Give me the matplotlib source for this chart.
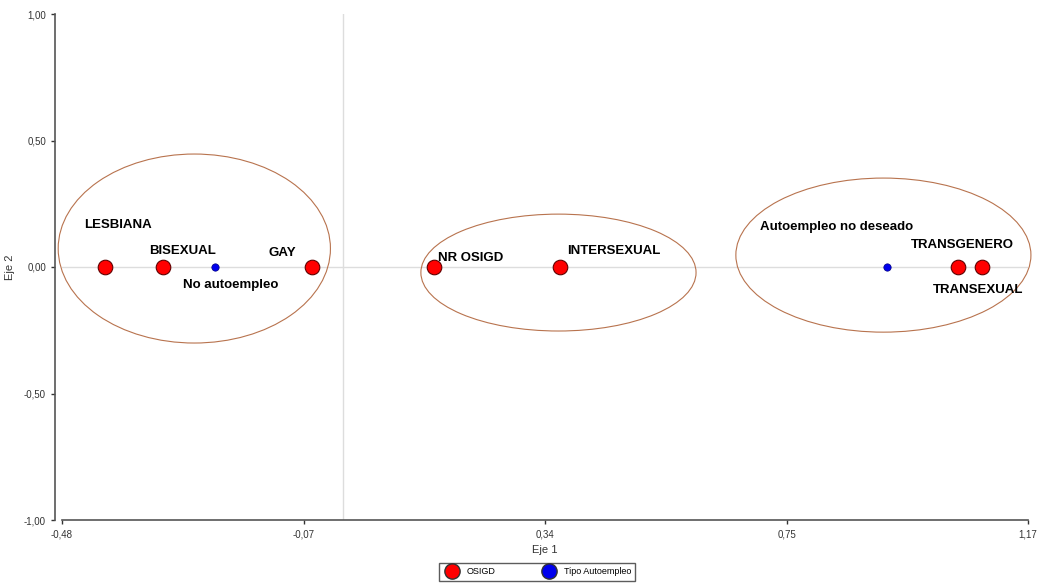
import matplotlib.pyplot as plt
from matplotlib.patches import Ellipse
from matplotlib.lines import Line2D

plt.rcParams['font.family'] = ['Liberation Sans', 'DejaVu Sans']

# OSIGD categories (red) and tipo autoempleo (blue), coordinates on Eje 1 / Eje 2
osigd = ['LESBIANA', 'BISEXUAL', 'GAY', 'NR OSIGD', 'INTERSEXUAL', 'TRANSGENERO', 'TRANSEXUAL']
osigd_x = [-0.407, -0.308, -0.053, 0.155, 0.370, 1.050, 1.092]
osigd_y = [0.0, 0.0, 0.0, 0.0, 0.0, 0.0, 0.0]

tipo = ['No autoempleo', 'Autoempleo no deseado']
tipo_x = [-0.218, 0.930]
tipo_y = [0.0, 0.0]

# label offsets (data units)
osigd_off = [(-0.035, 0.165), (-0.023, 0.065), (-0.074, 0.055), (0.008, 0.035), (0.012, 0.062), (-0.08, 0.085), (-0.085, -0.09)]
tipo_off = [(-0.055, -0.07), (-0.217, 0.158)]

# clusters: center x, center y, width, height
clusters = [(-0.254, 0.073, 0.465, 0.747), (0.368, -0.022, 0.47, 0.462), (0.923, 0.047, 0.504, 0.609)]

fig = plt.figure(figsize=(10.37, 5.84), dpi=100)
ax = fig.add_axes([62/1037, 64/584, (1028-62)/1037, (520-14)/584])

ax.axhline(0, color='#dddddd', lw=1, zorder=0)
ax.axvline(0, color='#dddddd', lw=1, zorder=0)

for cx, cy, w, h in clusters:
    ax.add_patch(Ellipse((cx, cy), w, h, fill=False, edgecolor='#b8734e', lw=0.8, clip_on=False))

ax.scatter(osigd_x, osigd_y, s=110, c='red', edgecolors='#600000', linewidths=0.8, zorder=3, clip_on=False)
ax.scatter(tipo_x, tipo_y, s=28, c='#0000ee', edgecolors='#000080', linewidths=0.5, zorder=3)

for name, x, y, (dx, dy) in zip(osigd, osigd_x, osigd_y, osigd_off):
    ax.text(x + dx, y + dy, name, fontsize=9.5, fontweight='bold', ha='left', va='center')
for name, x, y, (dx, dy) in zip(tipo, tipo_x, tipo_y, tipo_off):
    ax.text(x + dx, y + dy, name, fontsize=9.5, fontweight='bold', ha='left', va='center')

ax.set_xlim(-0.48, 1.17)
ax.set_ylim(-1.0, 1.0)
xt = [-0.48, -0.0675, 0.345, 0.7575, 1.17]
ax.set_xticks(xt)
ax.set_xticklabels(['-0,48', '-0,07', '0,34', '0,75', '1,17'])
ax.set_yticks([-1.0, -0.5, 0.0, 0.5, 1.0])
ax.set_yticklabels(['-1,00', '-0,50', '0,00', '0,50', '1,00'])
ax.tick_params(labelsize=7, colors='#333333', length=3, width=1)
ax.spines['top'].set_visible(False)
ax.spines['right'].set_visible(False)
ax.spines['left'].set_color('#555555')
ax.spines['bottom'].set_color('#555555')
ax.spines['left'].set_linewidth(1.2)
ax.spines['bottom'].set_linewidth(1.2)
ax.spines['left'].set_position(('outward', 5))
ax.set_xlabel('Eje 1', fontsize=8, color='#333333', labelpad=4)
ax.set_ylabel('Eje 2', fontsize=8, color='#333333')
ax.yaxis.set_label_coords(-47/966, 0.5)

handles = [Line2D([], [], marker='o', ls='', markersize=11, markerfacecolor='red', markeredgecolor='#333333'),
           Line2D([], [], marker='o', ls='', markersize=11, markerfacecolor='#0000ee', markeredgecolor='#333333')]
fig.legend(handles, ['OSIGD', 'Tipo Autoempleo'], loc='center', bbox_to_anchor=(537/1037, 1 - 572/584),
           ncol=2, fontsize=6.5, frameon=True, fancybox=False, edgecolor='#333333',
           columnspacing=5, handletextpad=0.6, borderpad=0.45)

fig.savefig('out.png', dpi=100)
